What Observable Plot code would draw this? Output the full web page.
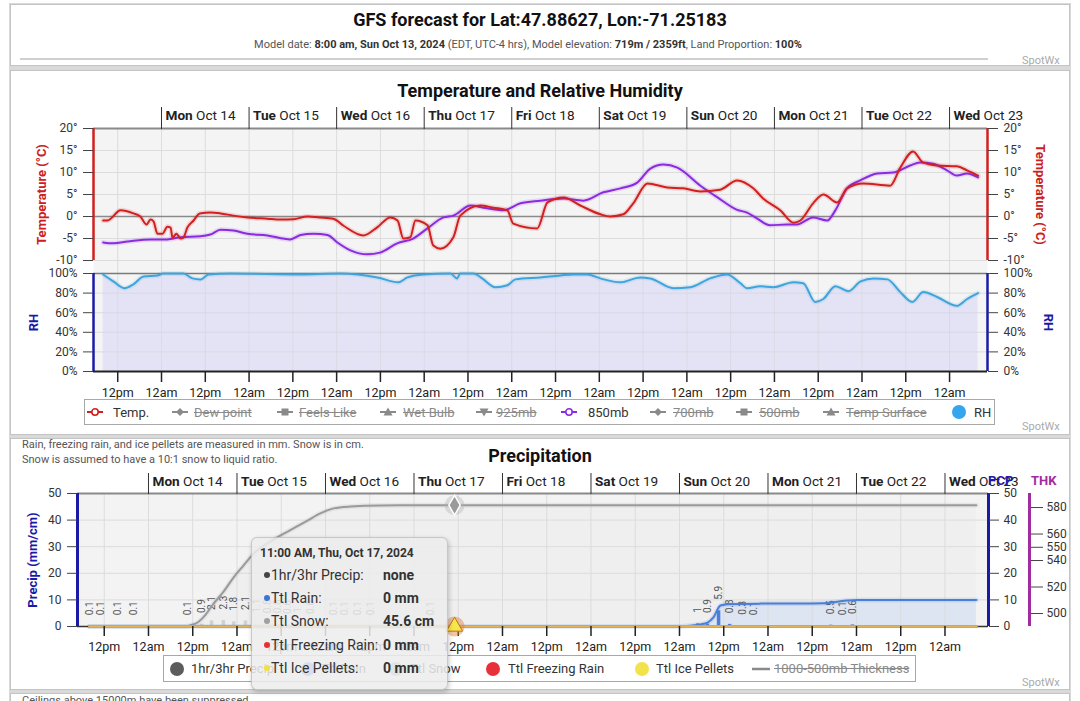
<!DOCTYPE html>
<html>
<head>
<meta charset="utf-8">
<script src="https://cdn.jsdelivr.net/npm/d3@7"></script>
<script src="https://cdn.jsdelivr.net/npm/@observablehq/plot@0.6"></script>
<style>
html,body{margin:0;padding:0;background:#fff;}
body{font-family:Roboto,"Open Sans",sans-serif;color:#333;}
#page{position:relative;width:1080px;height:701px;overflow:hidden;background:#fff;}
.band{position:absolute;left:9px;top:3px;width:1062px;height:720px;background:#d9d9d9;}
.panel{position:absolute;left:10px;width:1060px;background:#fff;border:1px solid #c4c4c4;box-sizing:border-box;}
.a{position:absolute;white-space:nowrap;}
.chart{position:absolute;left:0;z-index:1;}
.legend{position:absolute;border:1px solid #a8a8a8;background:#fff;box-sizing:border-box;font-size:13px;color:#333;z-index:2;}
.it{position:absolute;top:0;height:100%;display:flex;align-items:center;white-space:nowrap;}
.off{color:#8a8a8a;text-decoration:line-through;}
.ic{position:absolute;top:50%;transform:translate(-50%,-50%);}
.dotc{position:absolute;top:50%;width:14px;height:14px;border-radius:50%;transform:translate(-50%,-50%);}
#tip{position:absolute;z-index:5;left:251px;top:537px;width:197px;height:153px;background:rgba(236,236,236,0.86);border:1px solid rgba(0,0,0,0.16);border-radius:6px;box-shadow:1px 2px 5px rgba(0,0,0,0.22);box-sizing:border-box;}
#tip .row{position:absolute;left:0;width:100%;font-size:14px;color:#333;height:20px;line-height:20px;white-space:nowrap;}
#tip .b{position:absolute;left:12px;top:7px;width:6px;height:6px;border-radius:50%;}
#tip .l{position:absolute;left:19px;top:0;}
#tip .v{position:absolute;left:131px;top:0;font-weight:bold;}
</style>
</head>
<body>
<div id="page">
  <div class="band"></div>
  <div class="panel" style="top:4px;height:62px;"></div>
  <div class="panel" style="top:70px;height:365px;"></div>
  <div class="panel" style="top:438px;height:252px;"></div>
  <div class="panel" style="top:693px;height:30px;"></div>

  <div class="a" style="left:0;width:1080px;top:9px;text-align:center;font-size:18px;font-weight:bold;color:#111;">GFS forecast for Lat:47.88627, Lon:-71.25183</div>
  <div class="a" style="left:0;width:1056px;top:38px;text-align:center;font-size:11px;color:#555;">Model date: <b style="color:#333">8:00 am, Sun Oct 13, 2024</b> (EDT, UTC-4 hrs), Model elevation: <b style="color:#333">719m / 2359ft</b>, Land Proportion: <b style="color:#333">100%</b></div>
  <div class="a" style="left:20px;top:58px;width:968px;height:2px;background:#cfcfcf;"></div>
  <div class="a" style="left:1022px;top:54px;font-size:11px;color:#aaa;">SpotWx</div>

  <div class="a" style="left:0;width:1080px;top:80px;text-align:center;font-size:18px;font-weight:bold;color:#111;">Temperature and Relative Humidity</div>
  <div class="a" style="left:1022px;top:420px;font-size:11px;color:#aaa;">SpotWx</div>

  <div class="a" style="left:22px;top:438px;font-size:11px;color:#555;">Rain, freezing rain, and ice pellets are measured in mm. Snow is in cm.</div>
  <div class="a" style="left:22px;top:453px;font-size:11px;color:#555;">Snow is assumed to have a 10:1 snow to liquid ratio.</div>
  <div class="a" style="left:0;width:1080px;top:445px;text-align:center;font-size:18px;font-weight:bold;color:#111;">Precipitation</div>
  <div class="a" style="left:1022px;top:676px;font-size:11px;color:#aaa;">SpotWx</div>
  <div class="a" style="left:22px;top:694px;font-size:11px;color:#555;">Ceilings above 15000m have been suppressed.</div>

  <div id="tempChart" class="chart" style="top:100px;"></div>
  <div id="rhChart" class="chart" style="top:273px;"></div>
  <div id="pcpChart" class="chart" style="top:470px;"></div>
  <div id="thkChart" class="chart" style="top:470px;left:980px;"></div>
  <div class="a" style="left:988px;top:473px;font-size:13px;font-weight:bold;color:#1a1aa8;z-index:3;">PCP</div>
  <div class="a" style="left:1031px;top:473px;font-size:13px;font-weight:bold;color:#a02ca0;z-index:3;">THK</div>

  <div class="legend" style="left:84px;top:399px;width:911px;height:26px;" id="topLegend"></div>
  <div class="legend" style="left:163px;top:655px;width:753px;height:27px;" id="botLegend"></div>

  <div id="tip">
    <div class="a" style="left:8px;top:8px;font-size:12px;font-weight:bold;color:#333;">11:00 AM, Thu, Oct 17, 2024</div>
    <div class="row" style="top:27px;"><span class="b" style="background:#444"></span><span class="l">1hr/3hr Precip:</span><span class="v">none</span></div>
    <div class="row" style="top:50px;"><span class="b" style="background:#3d74d8"></span><span class="l">Ttl Rain:</span><span class="v">0 mm</span></div>
    <div class="row" style="top:73px;"><span class="b" style="background:#a0a0a0"></span><span class="l">Ttl Snow:</span><span class="v" id="tipSnow">45.6 cm</span></div>
    <div class="row" style="top:97px;"><span class="b" style="background:#e83030"></span><span class="l">Ttl Freezing Rain:</span><span class="v">0 mm</span></div>
    <div class="row" style="top:120px;"><span class="b" style="background:#f0e040"></span><span class="l">Ttl Ice Pellets:</span><span class="v">0 mm</span></div>
  </div>
</div>

<script>
// ---------- DATA (hours after model start 8:00 am Sun Oct 13, 2024 EDT) ----------
const tempC = [[0,-0.9],[1.2,-0.9],[4.8,1.4],[8.3,0.7],[10.2,0],[11.9,-1.8],[13,-0.7],[13.8,-1.1],[14.9,-3.9],[16.3,-3.9],[17.6,-2.3],[18.5,-2.5],[19,-4.8],[20.1,-3.9],[21.2,-5],[22,-4.8],[23.1,-2.5],[24.8,-0.9],[26.5,0.7],[29.4,0.9],[32.2,0.7],[35.7,0.2],[39.6,-0.2],[45,-0.5],[48.6,-0.7],[52.2,-0.6],[56,0],[59.6,-0.2],[63.1,-0.5],[65.9,-2.1],[71.3,-4.3],[75.2,-2.4],[78.7,-0.2],[80.7,-0.9],[82.3,-5],[84.2,-4.7],[85.6,-0.9],[88.9,-2],[90.5,-6.6],[92.4,-7.3],[96,-4.7],[97.9,0.2],[103.4,2.5],[107,2],[110.8,1.4],[112.4,-1.6],[119,-2.7],[121.8,3.2],[126.2,4.3],[130.8,2.5],[136.3,0.5],[139,0],[142.6,0.5],[145.3,3],[149.2,7.5],[154.6,6.6],[159,6.4],[163.7,5.7],[169.1,6.1],[173.8,8.2],[178.2,6.4],[180.9,4.1],[185.6,1.4],[189.2,-1.4],[191.1,-0.9],[194.6,3],[197.4,5],[201.2,3.2],[203.9,6.4],[208.3,7.5],[215.7,7],[218.5,11.1],[222,14.8],[224.7,12.3],[228.6,11.6],[234,11.4],[236.8,10.5],[239.8,9.3]];
const t850C = [[0,-5.9],[2.8,-6.1],[6.7,-5.7],[13,-5.2],[17.6,-5.2],[21.2,-4.7],[26.7,-4.5],[29.4,-4.1],[32.2,-3],[35.7,-3.2],[39.6,-3.9],[45,-4.3],[51.3,-5.2],[54.1,-4.2],[57.6,-3.9],[61.5,-4.2],[64.2,-5.9],[67.8,-7.7],[72.4,-8.6],[75.9,-8.2],[80.6,-6.1],[85,-5],[88.9,-2.7],[93.3,-0.2],[96,0.2],[100.7,2.5],[104.2,2],[109.7,1.4],[114.4,3],[119.8,3.6],[126.2,4.1],[131.6,3.6],[137.1,5.5],[141.8,6.4],[146.4,7.7],[150,10.9],[153.6,11.8],[157.4,11.1],[163.7,7],[168.3,4.4],[173.8,1.5],[176.5,0.9],[179.3,-0.5],[182.8,-2],[187.5,-1.8],[190.2,-1.8],[194.6,-0.2],[198.5,-0.9],[200.7,1.4],[203.9,6.4],[207.5,8.2],[212.2,9.8],[216.5,10],[221.2,11.6],[223.9,12.3],[227.5,12],[231.3,10.5],[234,9.3],[236.8,9.8],[239.8,8.9]];
const rhPct = [[0,99],[2.8,92],[5.9,85],[8.3,89],[11.1,97],[14.9,98],[16.5,100],[22,100],[24.5,95],[26.7,94],[28.9,99],[35,100],[54,99],[65,100],[75.2,96],[80.9,91],[83.4,96],[87.8,99],[95.2,100],[97,95],[97.9,100],[101.5,100],[103.9,95],[107.5,86],[110.8,88],[113,94],[119.8,96],[125.3,98],[128.9,99],[132.7,99],[136.3,95],[141.8,91],[147.2,96],[150,95],[156.3,85],[160.9,86],[166.4,95],[171,99],[174.7,90],[176.5,85],[180.1,87],[183.7,86],[189.2,91],[191.9,90],[195.2,71],[197.4,74],[200.7,87],[204.3,82],[207.6,92],[211.2,95],[215,94],[218.5,81],[221.8,71],[224.8,81],[228.6,76],[234,67],[236.8,74],[239.8,80]];
const snowCm = [[0,0],[26,0],[27.4,0.5],[29.3,1.5],[31.5,4.5],[33.6,8.5],[36.3,13],[39.1,18.5],[41.8,23],[44.5,27.4],[48.5,31.5],[53.2,35.3],[59.1,39.8],[62.6,42.5],[66.2,44.4],[70.8,45.1],[78.9,45.5],[99,45.6],[240.5,45.6]];
const rainMm = [[0,0],[160,0],[163,0.3],[165.7,0.8],[167.6,1.5],[169.2,3.4],[171.1,7.9],[173,8.4],[182,8.6],[199,8.7],[202.3,9.2],[205.5,9.8],[208.2,10],[240.5,10]];
const zeroTotals = [[0,0],[240.5,0]];
const hourlyPrecip = [[0,0.1,"snow"],[3.2,0.1,"snow"],[7.6,0.1,"snow"],[11.9,0.1,"snow"],[26.6,0.1,"snow"],[30.4,0.9,"snow"],[33.1,2.1,"snow"],[36.3,2.3,"snow"],[39.1,1.8,"snow"],[42.3,2.1,"snow"],[45.3,1.1,"snow"],[48.3,0.8,"snow"],[51,0.8,"snow"],[53.7,0.6,"snow"],[56.4,1,"snow"],[59.9,0.6,"snow"],[66.2,0.1,"snow"],[69.2,0.1,"snow"],[72.7,0.1,"snow"],[76.2,0.1,"snow"],[92.5,0.1,"snow"],[164.9,1,"rain"],[167.6,0.9,"rain"],[170.6,5.9,"rain"],[173.6,0.8,"rain"],[177.1,0.3,"rain"],[180.1,0.1,"rain"],[201,0.5,"rain"],[204.2,0.1,"rain"],[206.9,0.6,"rain"]];
const hoverHour = 99;

const tempTicks = [-10,-5,0,5,10,15,20];
const rhTicks = [0,20,40,60,80,100];
const pcpTicks = [0,10,20,30,40,50];
const thkTicks = [500,520,540,550,560,580];
const dayLabels = ["Mon Oct 14","Tue Oct 15","Wed Oct 16","Thu Oct 17","Fri Oct 18","Sat Oct 19","Sun Oct 20","Mon Oct 21","Tue Oct 22","Wed Oct 23"];
const halfDayLabels = {12:"12pm", 0:"12am"};

// ---------- helpers ----------
const MODEL_START = Date.UTC(2024, 9, 13, 8); // wall-clock EDT plotted on a utc scale
const at = h => new Date(MODEL_START + h * 3600e3);
const dayStarts = dayLabels.map((_, i) => at(16 + 24 * i));
const halfDays = d3.range(20).map(i => at(4 + 12 * i));
const X = d => at(d[0]), Y = d => d[1];

const RED = "#d21f1f", PURPLE = "#8b2be0", RHBLUE = "#3fa3dc", AXBLUE = "#1a1aa8", THKC = "#a02ca0";
const GRID = "#dcdcdc";
const baseStyle = {background:"transparent", overflow:"visible", fontFamily:"Roboto, sans-serif", fontSize:"12px", color:"#333"};

const topDomain = [at(16 - 18.64), at(16 + 226.4)];
const pcpDomain = [at(16 - 19.25), at(16 + 227.8)];

function glowLine(data, color, opts = {}) {
  return [
    Plot.line(data, {x: X, y: Y, stroke: color, strokeWidth: 5, strokeOpacity: 0.14, curve: "monotone-x", ...opts}),
    Plot.line(data, {x: X, y: Y, stroke: color, strokeWidth: 2, curve: "monotone-x", ...opts})
  ];
}
function dayRow(tickSize, dy) {
  return [
    Plot.axisX(dayStarts, {anchor: "top", tickSize, tickFormat: () => "", stroke: "#333", label: null}),
    Plot.text(dayStarts, {x: d => d, frameAnchor: "top", dy, dx: 4, textAnchor: "start", lineAnchor: "middle", text: (d, i) => dayLabels[i], fontSize: 13.6, fill: "#222"})
  ];
}
function boldWeekdays(svg) {
  d3.select(svg).selectAll("text").each(function () {
    const m = /^(Mon|Tue|Wed|Thu|Fri|Sat|Sun) (Oct \d+)$/.exec(this.textContent);
    if (!m) return;
    const el = d3.select(this);
    el.text(null);
    el.append("tspan").attr("font-weight", "bold").text(m[1]);
    el.append("tspan").text(" " + m[2]);
  });
}
const fmtHalf = d => halfDayLabels[d.getUTCHours()];
function axisTitle(label, side, yValue, dx, color) {
  return Plot.text([label], {frameAnchor: side, y: () => yValue, dx, rotate: side === "left" ? -90 : 90, textAnchor: "middle", lineAnchor: "middle", fill: color, fontWeight: "bold", fontSize: 13});
}

// ---------- Temperature ----------
const tempPlot = Plot.plot({
  width: 1080, height: 173, marginTop: 28, marginBottom: 0, marginLeft: 93, marginRight: 93,
  style: baseStyle,
  x: {type: "utc", domain: topDomain, axis: null},
  y: {domain: [-12.95, 20], axis: null},
  marks: [
    Plot.frame({fill: "#f4f4f4", stroke: "none"}),
    Plot.ruleY([-10, -5, 5, 10, 15], {stroke: GRID}),
    Plot.ruleX(halfDays, {stroke: GRID}),
    Plot.ruleY([0], {stroke: "#8a8a8a", strokeWidth: 1.5}),
    Plot.ruleY([20], {stroke: "#8a8a8a", strokeWidth: 2}),
    ...glowLine(t850C, PURPLE),
    ...glowLine(tempC, RED),
    Plot.ruleX([topDomain[0], topDomain[1]], {y1: -10, y2: 20, stroke: RED, strokeWidth: 2.5}),
    Plot.axisY(tempTicks, {anchor: "left", tickSize: 10, tickPadding: 6, tickFormat: d => d + "°", fontSize: 12, stroke: "#444", fill: "#333", label: null}),
    Plot.axisY(tempTicks, {anchor: "right", tickSize: 10, tickPadding: 6, tickFormat: d => d + "°", fontSize: 12, stroke: "#444", fill: "#333", label: null}),
    ...dayRow(22, -13),
    axisTitle("Temperature (°C)", "left", 5, -52, "#cc2020"),
    axisTitle("Temperature (°C)", "right", 5, 53, "#cc2020")
  ]
});
boldWeekdays(tempPlot);
document.getElementById("tempChart").append(tempPlot);

// ---------- Relative humidity ----------
const rhPlot = Plot.plot({
  width: 1080, height: 130, marginTop: 0, marginBottom: 32, marginLeft: 93, marginRight: 93,
  style: baseStyle,
  x: {type: "utc", domain: topDomain, axis: null},
  y: {domain: [0, 100], axis: null},
  marks: [
    Plot.frame({fill: "#f4f4f4", stroke: "none"}),
    Plot.areaY(rhPct, {x: X, y: Y, fill: "#e3e3f5", curve: "monotone-x"}),
    Plot.ruleY([20, 40, 60, 80], {stroke: "#d4d4e0", strokeOpacity: 0.8}),
    Plot.ruleX(halfDays, {stroke: "#d8d8e2", strokeOpacity: 0.8}),
    Plot.ruleY([100], {stroke: "#7a7a7a", strokeWidth: 1.5}),
    ...glowLine(rhPct, RHBLUE),
    Plot.ruleX([topDomain[0], topDomain[1]], {stroke: AXBLUE, strokeWidth: 2.5}),
    Plot.ruleY([0], {stroke: "#222", strokeWidth: 2}),
    Plot.axisY(rhTicks, {anchor: "left", tickSize: 10, tickPadding: 6, tickFormat: d => d + "%", fontSize: 12, stroke: "#444", fill: "#333", label: null}),
    Plot.axisY(rhTicks, {anchor: "right", tickSize: 10, tickPadding: 6, tickFormat: d => d + "%", fontSize: 12, stroke: "#444", fill: "#333", label: null}),
    Plot.axisX(halfDays, {anchor: "bottom", tickSize: 11, tickPadding: 6, tickFormat: fmtHalf, fontSize: 12.5, stroke: "#222", fill: "#222", strokeWidth: 1.5, label: null}),
    axisTitle("RH", "left", 50, -60, AXBLUE),
    axisTitle("RH", "right", 50, 61, AXBLUE)
  ]
});
document.getElementById("rhChart").append(rhPlot);

// ---------- Precipitation ----------
const snowAtHover = snowCm.find(d => d[0] === hoverHour);
document.getElementById("tipSnow").textContent = snowAtHover[1] + " cm";
const pcpPlot = Plot.plot({
  width: 1080, height: 186, marginTop: 23, marginBottom: 30, marginLeft: 77, marginRight: 92,
  style: baseStyle,
  x: {type: "utc", domain: pcpDomain, axis: null},
  y: {domain: [0, 50], axis: null},
  marks: [
    Plot.frame({fill: "#f3f3f3", stroke: "none"}),
    Plot.areaY(snowCm, {x: X, y: Y, fill: "#ebebeb", fillOpacity: 0.5, curve: "monotone-x"}),
    Plot.areaY(rainMm, {x: X, y: Y, fill: "#dde4f2", curve: "monotone-x"}),
    Plot.ruleY([10, 20, 30, 40], {stroke: GRID}),
    Plot.ruleX(halfDays, {stroke: GRID}),
    Plot.ruleY([50], {stroke: "#8a8a8a", strokeWidth: 2}),
    Plot.ruleX(hourlyPrecip, {x: X, y1: 0, y2: Y, stroke: d => d[2] === "rain" ? "#4a7fd8" : "#9a9a9a", strokeOpacity: d => d[2] === "rain" ? 1 : 0.35, strokeWidth: 3.5}),
    Plot.text(hourlyPrecip, {x: X, y: Y, dy: -11, rotate: -90, textAnchor: "start", lineAnchor: "middle", text: d => String(d[1]), fontSize: 10, fill: "#555"}),
    ...glowLine(snowCm, "#9a9a9a"),
    ...glowLine(rainMm, "#4a7fd8"),
    Plot.ruleY([0], {stroke: "#333", strokeWidth: 1.5}),
    Plot.line(zeroTotals, {x: X, y: Y, stroke: "#e85050", strokeWidth: 3}),
    Plot.line(zeroTotals, {x: X, y: Y, stroke: "#e4b45a", strokeWidth: 2.5}),
    Plot.ruleX([pcpDomain[0], pcpDomain[1]], {stroke: AXBLUE, strokeWidth: 3}),
    Plot.axisY(pcpTicks, {anchor: "left", tickSize: 10, tickPadding: 6, fontSize: 12, stroke: "#444", fill: "#333", label: null}),
    Plot.axisY(pcpTicks, {anchor: "right", tickSize: 10, tickPadding: 5, fontSize: 12, stroke: "#444", fill: "#333", label: null}),
    Plot.axisX(halfDays, {anchor: "bottom", tickSize: 10, tickPadding: 6, tickFormat: fmtHalf, fontSize: 12.5, stroke: "#222", fill: "#222", strokeWidth: 1.5, label: null}),
    ...dayRow(21, -12),
    axisTitle("Precip (mm/cm)", "left", 25, -45, AXBLUE),
    // hover markers at 11:00 AM Thu Oct 17
    Plot.dot([snowAtHover], {x: X, y: Y, r: 10, fill: "#b0b0b0", fillOpacity: 0.35}),
    Plot.dot([snowAtHover], {x: X, y: Y, r: 6, symbol: "diamond", fill: "#9a9a9a", stroke: "#fff", strokeWidth: 1.5}),
    Plot.dot([[hoverHour, 0]], {x: X, y: Y, r: 10, fill: "#e0803a", fillOpacity: 0.45}),
    Plot.dot([[hoverHour, 0]], {x: X, y: Y, r: 6, symbol: "triangle", fill: "#f5e64a", stroke: "#c07020", strokeWidth: 1})
  ]
});
boldWeekdays(pcpPlot);
document.getElementById("pcpChart").append(pcpPlot);

// ---------- 1000-500mb thickness axis ----------
const thkPlot = Plot.plot({
  width: 100, height: 186, marginTop: 23, marginBottom: 30, marginLeft: 49, marginRight: 50,
  style: baseStyle,
  x: {domain: [0, 1], axis: null},
  y: {domain: [490.2, 590.6], axis: null},
  marks: [
    Plot.ruleX([0], {stroke: THKC, strokeWidth: 3}),
    Plot.axisY(thkTicks, {anchor: "right", tickSize: 12, tickPadding: 4, fontSize: 12, stroke: "#444", fill: "#333", label: null})
  ]
});
document.getElementById("thkChart").append(thkPlot);

// ---------- legends ----------
const topLegendItems = [
  {label: "Temp.", color: RED, mark: "circle", on: true},
  {label: "Dew point", color: "#8a8a8a", mark: "diamond", on: false},
  {label: "Feels Like", color: "#8a8a8a", mark: "square", on: false},
  {label: "Wet Bulb", color: "#8a8a8a", mark: "triangle", on: false},
  {label: "925mb", color: "#8a8a8a", mark: "triangle-down", on: false},
  {label: "850mb", color: PURPLE, mark: "circle", on: true},
  {label: "700mb", color: "#8a8a8a", mark: "diamond", on: false},
  {label: "500mb", color: "#8a8a8a", mark: "square", on: false},
  {label: "Temp Surface", color: "#8a8a8a", mark: "triangle", on: false},
  {label: "RH", color: "#33a6ee", mark: "dot", on: true}
];
const topLegendLayout = [[10, 28], [95, 109], [200, 214], [303, 318], [399, 411], [484, 503], [573, 588], [659, 674], [746, 761], [874, 889]];
const botLegendItems = [
  {label: "1hr/3hr Precip", color: "#5c5c5c", mark: "dot", on: true},
  {label: "Ttl Rain", color: "#5b8fe8", mark: "dot", on: true},
  {label: "Ttl Snow", color: "#a8a8a8", mark: "dot", on: true},
  {label: "Ttl Freezing Rain", color: "#e8303a", mark: "dot", on: true},
  {label: "Ttl Ice Pellets", color: "#f2e34a", mark: "dot", on: true},
  {label: "1000-500mb Thickness", color: "#8a8a8a", mark: "line", on: false}
];
const botLegendLayout = [[13, 27], [144, 158], [232, 246], [329, 344], [478, 492], [597, 610]];

function iconSvg(mark, color) {
  const w = 16, h = 10, c = 8;
  let shape = "";
  if (mark === "circle") shape = `<circle cx="${c}" cy="5" r="3.2" fill="#fff" stroke="${color}" stroke-width="1.6"/>`;
  if (mark === "diamond") shape = `<path d="M${c},1L${c + 4},5L${c},9L${c - 4},5Z" fill="${color}"/>`;
  if (mark === "square") shape = `<rect x="${c - 3.5}" y="1.5" width="7" height="7" fill="${color}"/>`;
  if (mark === "triangle") shape = `<path d="M${c},0.5L${c + 4.5},8.5L${c - 4.5},8.5Z" fill="${color}"/>`;
  if (mark === "triangle-down") shape = `<path d="M${c},9.5L${c + 4.5},1.5L${c - 4.5},1.5Z" fill="${color}"/>`;
  return `<svg class="ic" width="${w}" height="${h}" style="left:0;overflow:visible"><line x1="0" x2="${w}" y1="5" y2="5" stroke="${color}" stroke-width="2"/>${shape}</svg>`;
}
function buildLegend(id, items, layout) {
  const box = document.getElementById(id);
  items.forEach((it, i) => {
    const [ix, tx] = layout[i];
    let icon;
    if (it.mark === "dot") icon = `<span class="dotc" style="left:${ix}px;background:${it.color}"></span>`;
    else if (it.mark === "line") icon = `<svg class="ic" width="18" height="4" style="left:${ix}px"><line x1="0" x2="18" y1="2" y2="2" stroke="${it.color}" stroke-width="2.5"/></svg>`;
    else icon = `<div style="position:absolute;left:${ix}px;top:50%;">${iconSvg(it.mark, it.color)}</div>`;
    box.insertAdjacentHTML("beforeend", icon + `<div class="it${it.on ? "" : " off"}" style="left:${tx}px">${it.label}</div>`);
  });
}
buildLegend("topLegend", topLegendItems, topLegendLayout);
buildLegend("botLegend", botLegendItems, botLegendLayout);
</script>
</body>
</html>
